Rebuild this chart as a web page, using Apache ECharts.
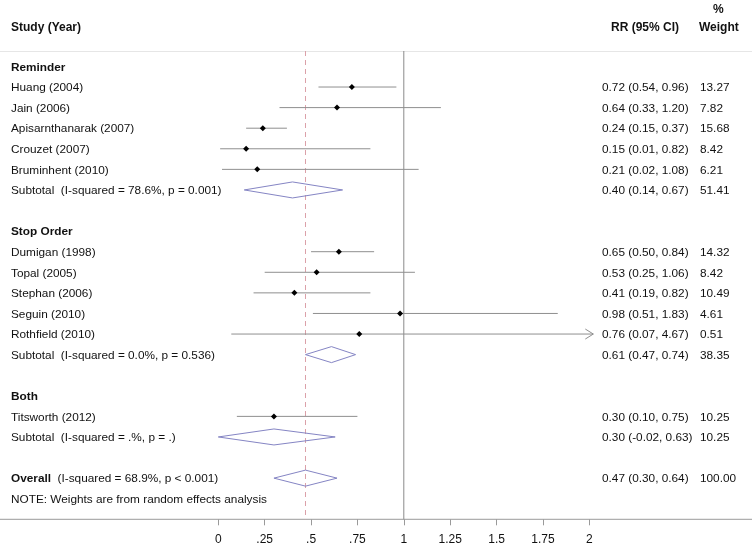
<!DOCTYPE html>
<html><head><meta charset="utf-8">
<script src="https://cdn.jsdelivr.net/npm/echarts@6/dist/echarts.min.js"></script>
<style>html,body{margin:0;padding:0;background:#fff}#c{width:752px;height:546px}</style>
</head><body><div id="c"></div>
<script>
const rowLabels = ['Reminder','Huang (2004)','Jain (2006)','Apisarnthanarak (2007)','Crouzet (2007)','Bruminhent (2010)',
  'Subtotal  (I-squared = 78.6%, p = 0.001)','',
  'Stop Order','Dumigan (1998)','Topal (2005)','Stephan (2006)','Seguin (2010)','Rothfield (2010)',
  'Subtotal  (I-squared = 0.0%, p = 0.536)','',
  'Both','Titsworth (2012)','Subtotal  (I-squared = .%, p = .)','',
  'Overall','NOTE: Weights are from random effects analysis'];
const overallNote = '  (I-squared = 68.9%, p < 0.001)';
const rowKinds = ['head','study','study','study','study','study','sub','blank',
  'head','study','study','study','study','study','sub','blank',
  'head','study','sub','blank','overall','note'];
const rrVals = [null,0.72,0.64,0.24,0.15,0.21,0.40,null, null,0.65,0.53,0.41,0.98,0.76,0.61,null, null,0.30,0.30,null, 0.47,null];
const loVals = [null,0.54,0.33,0.15,0.01,0.02,0.14,null, null,0.50,0.25,0.19,0.51,0.07,0.47,null, null,0.10,-0.02,null, 0.30,null];
const hiVals = [null,0.96,1.20,0.37,0.82,1.08,0.67,null, null,0.84,1.06,0.82,1.83,4.67,0.74,null, null,0.75,0.63,null, 0.64,null];
const weightVals = ['','13.27','7.82','15.68','8.42','6.21','51.41','', '','14.32','8.42','10.49','4.61','0.51','38.35','', '','10.25','10.25','', '100.00',''];
const overallRR = 0.47;
const xTicks = [0,0.25,0.5,0.75,1,1.25,1.5,1.75,2];
const xTickLabels = ['0','.25','.5','.75','1','1.25','1.5','1.75','2'];
const X_MIN = 0, X_MAX = 2;

const FONT = '"Liberation Sans", Arial, Helvetica, sans-serif';
const FS = 11.8;
const chart = echarts.init(document.getElementById('c'), null, {renderer:'canvas'});
const mctx = document.createElement('canvas').getContext('2d');

const ciData = [], diaData = [], textData = [];
rowKinds.forEach((k,i)=>{
  if (k==='study') ciData.push([rrVals[i], loVals[i], hiVals[i], i]);
  if (k==='sub' || k==='overall') diaData.push([rrVals[i], loVals[i], hiVals[i], i]);
  textData.push([0, i]);
});
function fmt(v){ return v.toFixed(2); }

const option = {
  animation:false,
  backgroundColor:'#fff',
  grid:{left:218.3, right:162.7, top:51, bottom:26.7},
  xAxis:{type:'value', min:X_MIN, max:X_MAX, interval:0.25, position:'bottom',
    axisLine:{show:false, onZero:false},
    axisTick:{show:true, length:6, lineStyle:{color:'#9a9a9a'}},
    splitLine:{show:false},
    axisLabel:{margin:14, fontSize:12, fontFamily:FONT, color:'#111',
      formatter:(v)=>{ const idx = xTicks.findIndex(t=>Math.abs(t-v)<1e-9); return idx>=0 ? xTickLabels[idx] : ''; }}
  },
  yAxis:{type:'value', inverse:true, min:-0.75, max:22, show:false},
  graphic:[
    {type:'text', left:11, top:22, style:{text:'Study (Year)', font:'bold 12px '+FONT, fill:'#111'}},
    {type:'text', left:611, top:22, style:{text:'RR (95% CI)', font:'bold 12px '+FONT, fill:'#111'}},
    {type:'text', left:713, top:4, style:{text:'%', font:'bold 12px '+FONT, fill:'#111'}},
    {type:'text', left:699, top:22, style:{text:'Weight', font:'bold 12px '+FONT, fill:'#111'}}
  ],
  series:[
    { // frame lines (full width header line and axis line)
      type:'custom', clip:false, silent:true, data:[[0,0]],
      renderItem:(params, api)=>{
        const cs = params.coordSys; const W = api.getWidth();
        return {type:'group', children:[
          {type:'line', shape:{x1:0,y1:cs.y+0.5,x2:W,y2:cs.y+0.5}, style:{stroke:'#e6e6e6', lineWidth:1}},
          {type:'line', shape:{x1:0,y1:cs.y+cs.height,x2:W,y2:cs.y+cs.height}, style:{stroke:'#9a9a9a', lineWidth:1}}
        ]};
      }
    },
    { // reference lines
      type:'custom', clip:false, silent:true, data:[[1,0],[overallRR,1]],
      encode:{x:0},
      renderItem:(params, api)=>{
        const cs = params.coordSys;
        const x = api.coord([api.value(0), 0])[0];
        const dashed = api.value(1)===1;
        return {type:'line', shape:{x1:x,y1:cs.y,x2:x,y2:cs.y+cs.height},
          style:{stroke: dashed ? '#dba0a8' : '#8a8a8a', lineWidth:1, lineDash: dashed ? [5,4] : null}};
      }
    },
    { // study CIs and point estimates
      type:'custom', clip:false, silent:true, data:ciData,
      encode:{x:[0,1,2], y:3},
      renderItem:(params, api)=>{
        const rr=api.value(0), lo=api.value(1), hi=api.value(2), row=api.value(3);
        const pL=api.coord([Math.max(lo,X_MIN),row]);
        const pR=api.coord([Math.min(hi,X_MAX),row]);
        const pM=api.coord([rr,row]);
        const over = hi > X_MAX;
        const xr = pR[0] + (over?4:0);
        const ch=[{type:'line', shape:{x1:pL[0],y1:pL[1],x2:xr,y2:pR[1]}, style:{stroke:'#8f8f8f', lineWidth:1}}];
        if (over) ch.push({type:'polyline', shape:{points:[[xr-8,pR[1]-5],[xr,pR[1]],[xr-8,pR[1]+5]]}, style:{stroke:'#8f8f8f', fill:null, lineWidth:1}});
        const s=3;
        ch.push({type:'polygon', shape:{points:[[pM[0],pM[1]-s],[pM[0]+s,pM[1]],[pM[0],pM[1]+s],[pM[0]-s,pM[1]]]}, style:{fill:'#000'}});
        return {type:'group', children:ch};
      }
    },
    { // pooled diamonds
      type:'custom', clip:false, silent:true, data:diaData,
      encode:{x:[0,1,2], y:3},
      renderItem:(params, api)=>{
        const rr=api.value(0), lo=Math.max(api.value(1),X_MIN), hi=Math.min(api.value(2),X_MAX), row=api.value(3);
        const pL=api.coord([lo,row]), pR=api.coord([hi,row]), pM=api.coord([rr,row]);
        const h=8;
        return {type:'polygon', shape:{points:[[pL[0],pL[1]],[pM[0],pM[1]-h],[pR[0],pR[1]],[pM[0],pM[1]+h]]},
          style:{stroke:'#8585c4', fill:null, lineWidth:1}};
      }
    },
    { // text columns
      type:'custom', clip:false, silent:true, data:textData,
      encode:{y:1},
      renderItem:(params, api)=>{
        const i = api.value(1);
        const y = api.coord([0,i])[1] + 1;
        const k = rowKinds[i];
        const ch=[];
        const base = {fontSize:FS, fontFamily:FONT, fill:'#111', verticalAlign:'middle', align:'left'};
        if (rowLabels[i]) {
          if (k==='head') ch.push({type:'text', x:11, y:y, style:Object.assign({}, base, {text:rowLabels[i], fontWeight:'bold'})});
          else if (k==='overall') {
            ch.push({type:'text', x:11, y:y, style:Object.assign({}, base, {text:rowLabels[i], fontWeight:'bold'})});
            mctx.font = 'bold ' + FS + 'px ' + FONT;
            const w = mctx.measureText(rowLabels[i]).width;
            ch.push({type:'text', x:11 + w, y:y, style:Object.assign({}, base, {text:overallNote})});
          }
          else ch.push({type:'text', x:11, y:y, style:Object.assign({}, base, {text:rowLabels[i]})});
        }
        if (rrVals[i] !== null) {
          ch.push({type:'text', x:602, y:y, style:Object.assign({}, base, {text: fmt(rrVals[i])+' ('+fmt(loVals[i])+', '+fmt(hiVals[i])+')'})});
          ch.push({type:'text', x:700, y:y, style:Object.assign({}, base, {text: weightVals[i]})});
        }
        return {type:'group', children:ch};
      }
    }
  ]
};
chart.setOption(option);
</script>
</body></html>
